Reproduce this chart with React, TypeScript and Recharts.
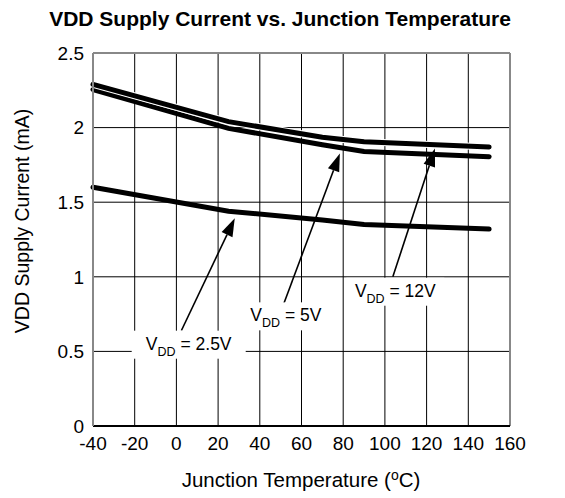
import { LineChart, Line, XAxis, YAxis, CartesianGrid, ReferenceLine, ReferenceDot } from 'recharts';

// junction temperature (°C) sample points
const temps = [-40, 25, 70, 90, 150];
// supply current (mA) per VDD
const vdd12 = [2.29, 2.04, 1.935, 1.905, 1.87];
const vdd5 = [2.255, 1.995, 1.885, 1.84, 1.805];
const vdd25 = [1.6, 1.44, 1.38, 1.35, 1.32];

const xTicks = [-40, -20, 0, 20, 40, 60, 80, 100, 120, 140, 160];
const yTicks = [0, 0.5, 1, 1.5, 2, 2.5];

// annotation labels: text value, label centre, arrow tail and arrow tip (data units)
const labelValues = ['2.5V', '5V', '12V'];
const labelX = [5.9, 52.5, 105];
const labelY = [0.545, 0.735, 0.9];
const arrowTail = [[2.4, 0.64], [51.5, 0.82], [103.8, 1.0]];
const arrowTip = [[28, 1.392], [78.4, 1.827], [124, 1.86]];

const font = '"Liberation Sans", Arial, Helvetica, sans-serif';
const boxWidths = [114, 86, 98];

const toSeries = (vals: number[]) => temps.map((t, i) => ({ t, v: vals[i] }));

function Arrow(props: any) {
  const { x1, y1, x2, y2 } = props;
  const dx = x2 - x1;
  const dy = y2 - y1;
  const len = Math.sqrt(dx * dx + dy * dy);
  const ux = dx / len;
  const uy = dy / len;
  const headLen = 18;
  const headW = 6;
  const bx = x2 - ux * headLen;
  const by = y2 - uy * headLen;
  const pts = `${x2},${y2} ${bx - uy * headW},${by + ux * headW} ${bx + uy * headW},${by - ux * headW}`;
  return (
    <g>
      <line x1={x1} y1={y1} x2={bx} y2={by} stroke="#000" strokeWidth={1.6} />
      <polygon points={pts} fill="#000" />
    </g>
  );
}

function makeLabel(idx: number) {
  return (props: any) => {
    const { cx, cy } = props;
    const w = boxWidths[idx];
    return (
      <g>
        <rect x={cx - w / 2} y={cy - 14} width={w} height={28} fill="#fff" />
        <text x={cx} y={cy + 5} textAnchor="middle" fontFamily={font} fontSize={17.5} fill="#000">
          V
          <tspan fontSize={12.5} dy={6}>DD</tspan>
          <tspan fontSize={17.5} dy={-6}> = {labelValues[idx]}</tspan>
        </text>
      </g>
    );
  };
}

export default function App() {
  return (
    <div style={{ position: 'absolute', left: 0, top: 0, width: 565, height: 498, background: '#fff' }}>
      <LineChart width={565} height={498} margin={{ top: 53, right: 55, bottom: 42, left: 0 }}>
        <CartesianGrid stroke="#000" strokeWidth={1} />
        <XAxis
          type="number"
          dataKey="t"
          domain={[-40, 160]}
          ticks={xTicks}
          interval={0}
          tickLine={false}
          tickMargin={5}
          height={30}
          axisLine={{ stroke: '#000', strokeWidth: 2 }}
          tick={{ fill: '#000', fontSize: 19, fontFamily: font }}
        />
        <YAxis
          type="number"
          domain={[0, 2.5]}
          ticks={yTicks}
          interval={0}
          width={93}
          tickLine={false}
          tickMargin={3}
          axisLine={{ stroke: '#888', strokeWidth: 2 }}
          tick={{ fill: '#000', fontSize: 19, fontFamily: font }}
        />
        <ReferenceLine y={2.5} stroke="#888" strokeWidth={2} />
        <ReferenceLine x={160} stroke="#888" strokeWidth={2} />

        <Line data={toSeries(vdd25)} dataKey="v" type="linear" stroke="#000" strokeWidth={5} strokeLinecap="round" dot={false} isAnimationActive={false} />
        <Line data={toSeries(vdd5)} dataKey="v" type="linear" stroke="#000" strokeWidth={5} strokeLinecap="round" dot={false} isAnimationActive={false} />
        <Line data={toSeries(vdd12)} dataKey="v" type="linear" stroke="#fff" strokeWidth={7} strokeLinecap="round" dot={false} isAnimationActive={false} />
        <Line data={toSeries(vdd12)} dataKey="v" type="linear" stroke="#000" strokeWidth={5} strokeLinecap="round" dot={false} isAnimationActive={false} />

        {labelValues.map((_, i) => (
          <ReferenceLine
            key={`a${i}`}
            segment={[{ x: arrowTail[i][0], y: arrowTail[i][1] }, { x: arrowTip[i][0], y: arrowTip[i][1] }]}
            shape={Arrow}
          />
        ))}
        {labelValues.map((_, i) => (
          <ReferenceDot key={`l${i}`} x={labelX[i]} y={labelY[i]} r={0} shape={makeLabel(i)} />
        ))}
      </LineChart>
      <svg width={565} height={498} style={{ position: 'absolute', left: 0, top: 0, pointerEvents: 'none' }}>
        <text x={280} y={26} textAnchor="middle" fontFamily={font} fontWeight="bold" fontSize={21} fill="#000">
          VDD Supply Current vs. Junction Temperature
        </text>
        <text x={301} y={487} textAnchor="middle" fontFamily={font} fontSize={20.5} fill="#000">
          Junction Temperature (<tspan fontSize={14} dy={-7}>o</tspan><tspan dy={7}>C)</tspan>
        </text>
        <text x={22} y={221} transform="rotate(-90 22 221)" textAnchor="middle" dominantBaseline="central" fontFamily={font} fontSize={19.5} fill="#000">
          VDD Supply Current (mA)
        </text>
      </svg>
    </div>
  );
}
